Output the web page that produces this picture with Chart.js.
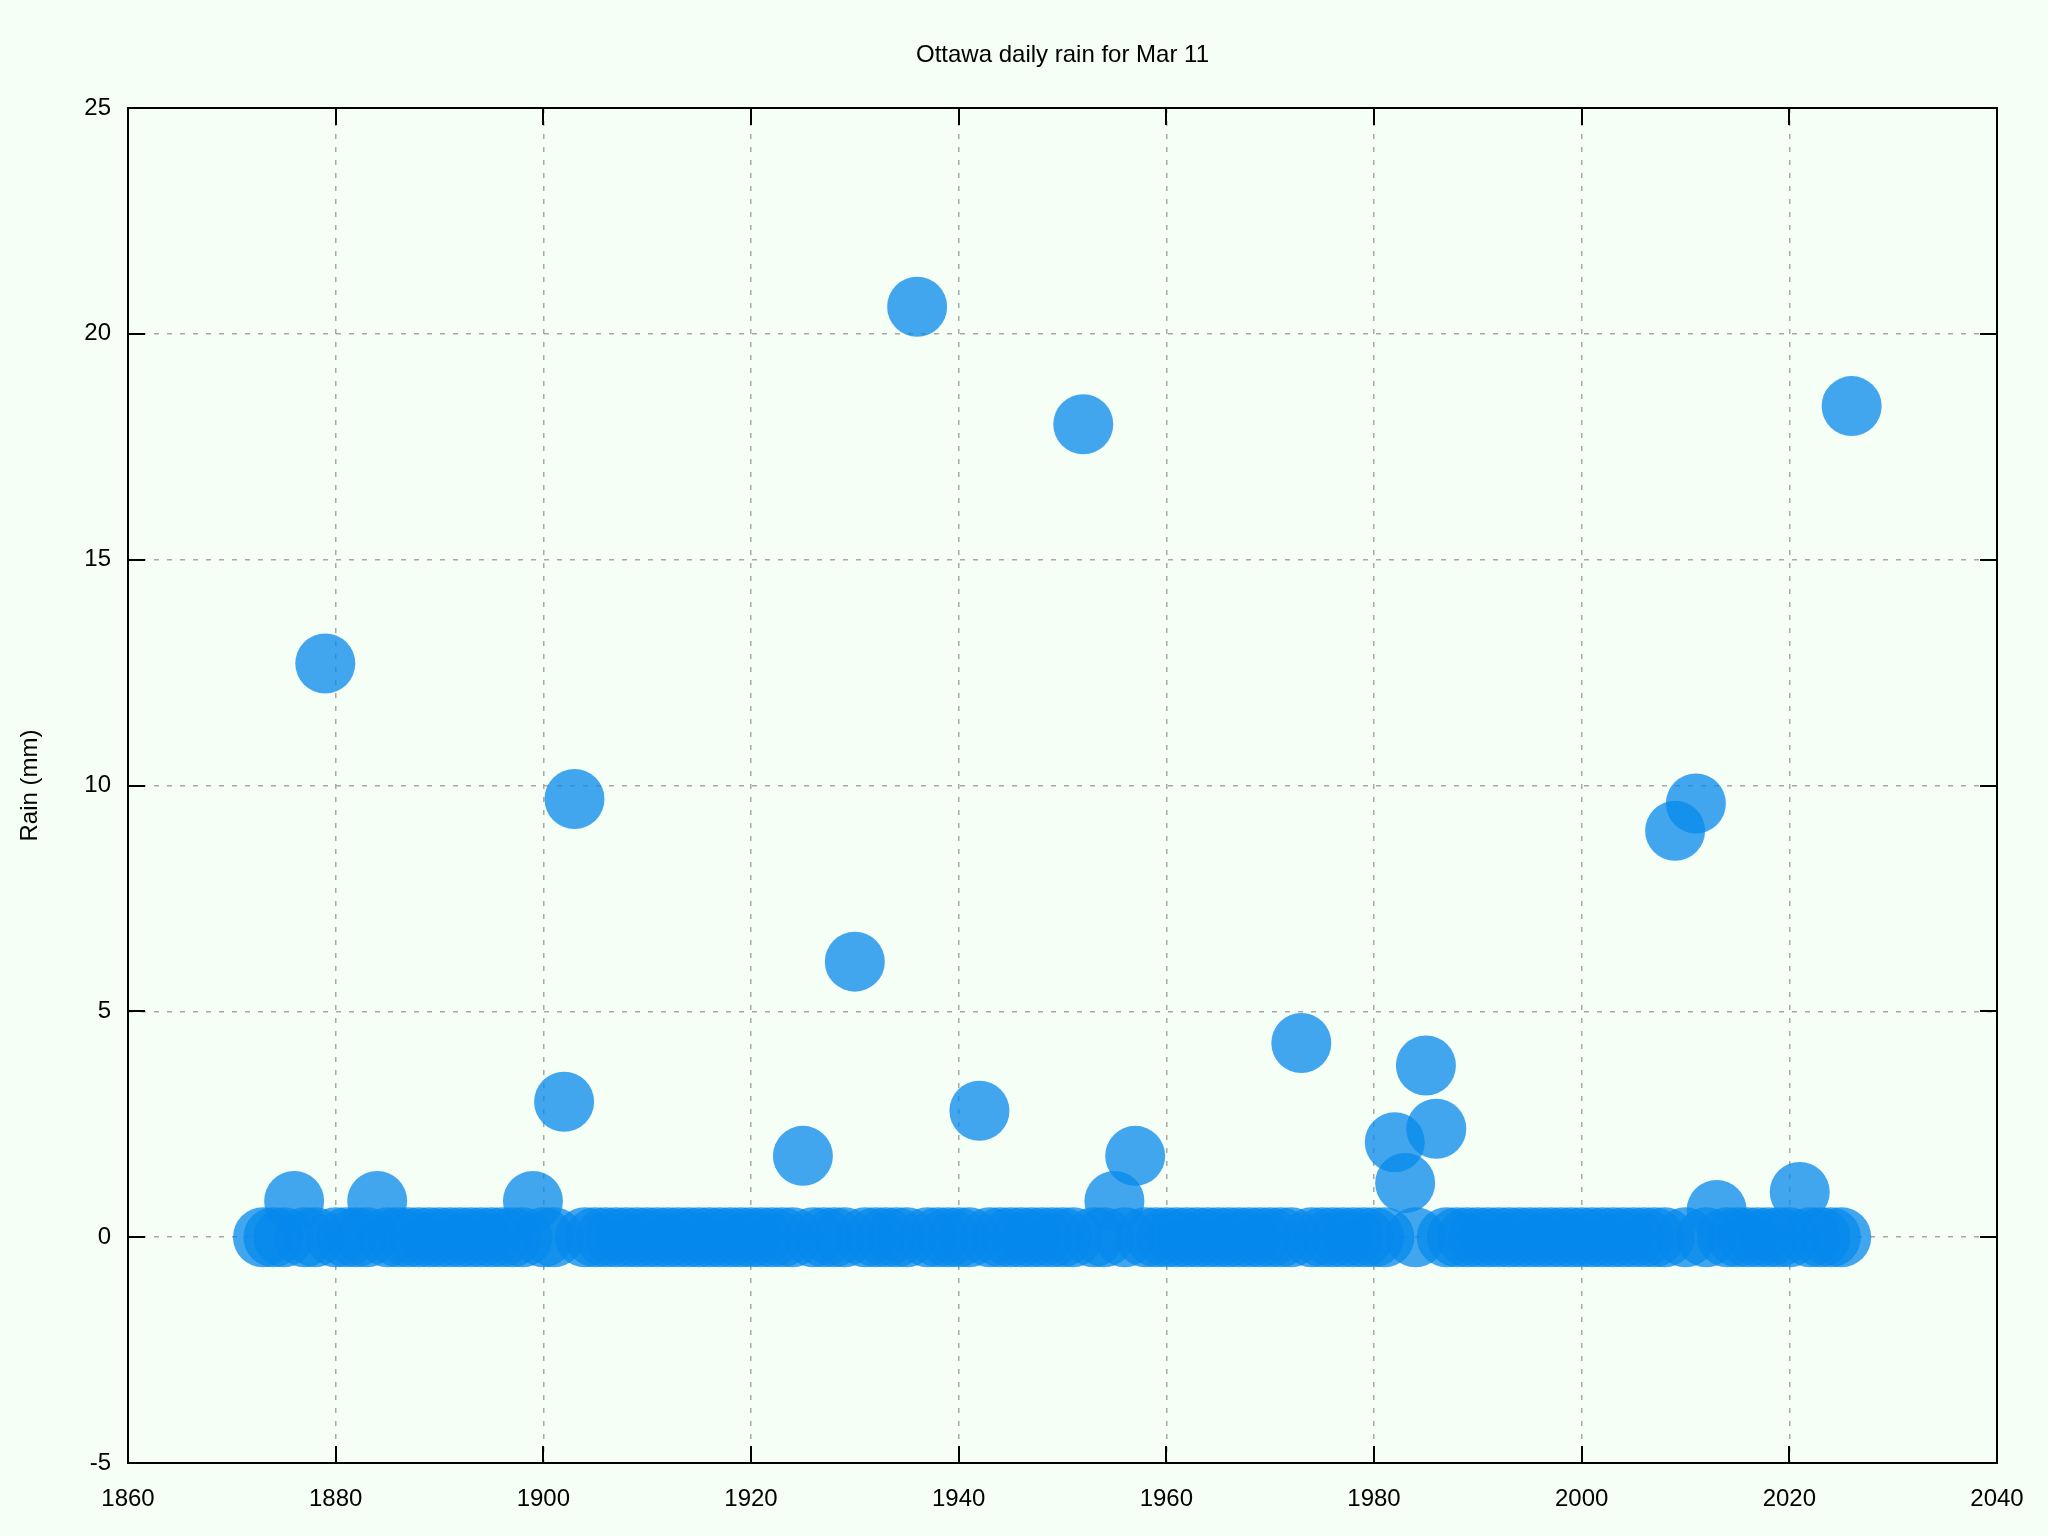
<!DOCTYPE html>
<html lang="en">
<head>
    <meta charset="UTF-8">
    <title>Ottawa daily rain for Mar 11</title>
    <script src="https://cdn.jsdelivr.net/npm/chart.js"></script>
    <style>
        body { margin: 0; background: #f5fff5; }
        #wrap { width: 2048px; height: 1536px; }
    </style>
</head>
<body>
    <div id="wrap">
        <canvas id="rainChart" width="2048" height="1536"></canvas>
    </div>

<script>
// years with a reading for Mar 11
const years = [
    1873, 1874, 1875, 1876, 1877, 1878, 1879, 1880, 1881, 1882,
    1883, 1884, 1885, 1886, 1887, 1888, 1889, 1890, 1891, 1892,
    1893, 1894, 1895, 1896, 1897, 1898, 1899, 1900, 1901, 1902,
    1903, 1904, 1905, 1906, 1907, 1908, 1909, 1910, 1911, 1912,
    1913, 1914, 1915, 1916, 1917, 1918, 1919, 1920, 1921, 1922,
    1923, 1924, 1925, 1926, 1927, 1928, 1929, 1930, 1931, 1932,
    1933, 1934, 1935, 1936, 1937, 1938, 1939, 1940, 1941, 1942,
    1943, 1944, 1945, 1946, 1947, 1948, 1949, 1950, 1951, 1952,
    1953, 1954, 1955, 1956, 1957, 1958, 1959, 1960, 1961, 1962,
    1963, 1964, 1965, 1966, 1967, 1968, 1969, 1970, 1971, 1972,
    1973, 1974, 1975, 1976, 1977, 1978, 1979, 1980, 1981, 1982,
    1983, 1984, 1985, 1986, 1987, 1988, 1989, 1990, 1991, 1992,
    1993, 1994, 1995, 1996, 1997, 1998, 1999, 2000, 2001, 2002,
    2003, 2004, 2005, 2006, 2007, 2008, 2009, 2010, 2011, 2012,
    2013, 2014, 2015, 2016, 2017, 2018, 2019, 2020, 2021, 2022,
    2023, 2024, 2025, 2026
];

// rain in mm, same order as years
const rainMm = [
    0, 0, 0, 0.8, 0, 0, 12.7, 0, 0, 0,
    0, 0.8, 0, 0, 0, 0, 0, 0, 0, 0,
    0, 0, 0, 0, 0, 0, 0.8, 0, 0, 3.0,
    9.7, 0, 0, 0, 0, 0, 0, 0, 0, 0,
    0, 0, 0, 0, 0, 0, 0, 0, 0, 0,
    0, 0, 1.8, 0, 0, 0, 0, 6.1, 0, 0,
    0, 0, 0, 20.6, 0, 0, 0, 0, 0, 2.8,
    0, 0, 0, 0, 0, 0, 0, 0, 0, 18.0,
    0, 0, 0.8, 0, 1.8, 0, 0, 0, 0, 0,
    0, 0, 0, 0, 0, 0, 0, 0, 0, 0,
    4.3, 0, 0, 0, 0, 0, 0, 0, 0, 2.1,
    1.2, 0, 3.8, 2.4, 0, 0, 0, 0, 0, 0,
    0, 0, 0, 0, 0, 0, 0, 0, 0, 0,
    0, 0, 0, 0, 0, 0, 9.0, 0, 9.6, 0,
    0.6, 0, 0, 0, 0, 0, 0, 0, 1.0, 0,
    0, 0, 0, 18.4
];

const xTicks = [1860, 1880, 1900, 1920, 1940, 1960, 1980, 2000, 2020, 2040];
const yTicks = [-5, 0, 5, 10, 15, 20, 25];

const chartTitle = "Ottawa daily rain for Mar 11";
const yTitle = "Rain (mm)";

const FONT = "'Liberation Sans', Arial, Helvetica, sans-serif";

document.addEventListener("DOMContentLoaded", function () {
    const ctx = document.getElementById("rainChart").getContext("2d");
    const points = years.map((y, i) => ({ x: y, y: rainMm[i] }));

    // gnuplot look: page colour, closed frame, inward ticks on all sides, title
    const gnuplotFrame = {
        id: "gnuplotFrame",
        beforeDraw(chart) {
            const c = chart.ctx;
            c.save();
            c.fillStyle = "#f5fff5";
            c.fillRect(0, 0, chart.width, chart.height);
            c.restore();
        },
        afterDraw(chart) {
            const c = chart.ctx;
            const a = chart.chartArea;
            const xs = chart.scales.x;
            const ys = chart.scales.y;
            const tick = 17;
            c.save();
            c.strokeStyle = "#000";
            c.lineWidth = 2;
            c.beginPath();
            xTicks.forEach(v => {
                const px = Math.round(xs.getPixelForValue(v));
                c.moveTo(px, a.bottom); c.lineTo(px, a.bottom - tick);
                c.moveTo(px, a.top); c.lineTo(px, a.top + tick);
            });
            yTicks.forEach(v => {
                const py = Math.round(ys.getPixelForValue(v));
                c.moveTo(a.left, py); c.lineTo(a.left + tick, py);
                c.moveTo(a.right, py); c.lineTo(a.right - tick, py);
            });
            c.stroke();
            c.strokeRect(a.left, a.top, a.right - a.left, a.bottom - a.top);

            c.fillStyle = "#000";
            c.font = "24px " + FONT;
            c.textAlign = "center";
            c.textBaseline = "alphabetic";
            c.fillText(chartTitle, (a.left + a.right) / 2, 62);
            c.restore();
        }
    };

    new Chart(ctx, {
        type: "scatter",
        data: {
            datasets: [{
                label: "rain",
                data: points,
                backgroundColor: "rgba(6, 136, 236, 0.75)",
                borderWidth: 0,
                pointRadius: 30,
                pointHoverRadius: 30
            }]
        },
        options: {
            responsive: false,
            animation: false,
            layout: { padding: { top: 108, right: 51, left: 0, bottom: 0 } },
            plugins: {
                legend: { display: false },
                title: { display: false },
                tooltip: { enabled: false }
            },
            scales: {
                x: {
                    type: "linear",
                    min: 1860,
                    max: 2040,
                    afterFit: s => { s.height = 73; },
                    afterBuildTicks: s => { s.ticks = xTicks.map(v => ({ value: v })); },
                    grid: {
                        color: "#a8a8a8",
                        lineWidth: 1.5,
                        drawTicks: false
                    },
                    border: { display: false, dash: [5, 8] },
                    ticks: {
                        color: "#000",
                        padding: 22,
                        maxRotation: 0,
                        font: { family: FONT, size: 24 },
                        callback: v => String(v)
                    }
                },
                y: {
                    type: "linear",
                    min: -5,
                    max: 25,
                    afterFit: s => { s.width = 128; },
                    afterBuildTicks: s => { s.ticks = yTicks.map(v => ({ value: v })); },
                    grid: {
                        color: "#a8a8a8",
                        lineWidth: 1.5,
                        drawTicks: false
                    },
                    border: { display: false, dash: [5, 8] },
                    ticks: {
                        color: "#000",
                        padding: 17,
                        font: { family: FONT, size: 24 },
                        callback: v => String(v)
                    },
                    title: {
                        display: true,
                        text: yTitle,
                        color: "#000",
                        padding: { top: 16, bottom: 0 },
                        font: { family: FONT, size: 24 }
                    }
                }
            }
        },
        plugins: [gnuplotFrame]
    });
});
</script>
</body>
</html>
